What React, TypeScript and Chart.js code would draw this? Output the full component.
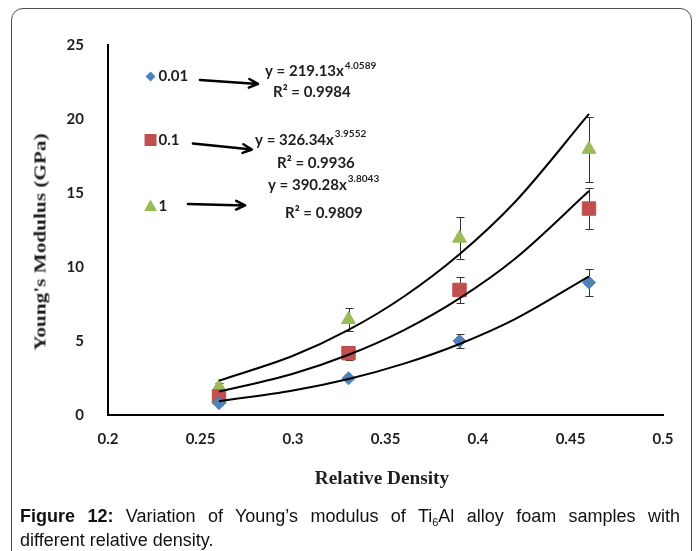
import React, { useEffect, useRef } from 'react';
import { Chart, registerables } from 'chart.js';

Chart.register(...registerables);

// ---------- data ----------
const densities = [0.26, 0.33, 0.39, 0.46];
const modulus001 = [0.8, 2.48, 5.0, 8.95];
const modulus01 = [1.25, 4.18, 8.45, 13.95];
const modulus1 = [1.9, 6.45, 11.95, 17.95];
const error001 = [0.1, 0.1, 0.5, 0.9];
const error01 = [0.2, 0.45, 0.9, 1.4];
const error1 = [0.25, 0.8, 1.4, 2.2];

const trendDensities = [0.26, 0.3, 0.33, 0.36, 0.39, 0.42, 0.46];
const trend001 = [0.93, 1.65, 2.43, 3.47, 4.8, 6.48, 9.37];
const trend01 = [1.58, 2.79, 4.07, 5.74, 7.88, 10.56, 15.13];
const trend1 = [2.32, 4.0, 5.75, 8.01, 10.86, 14.39, 20.34];

const seriesLabels = ['0.01', '0.1', '1'];
const seriesColors = ['#4F81BD', '#C0504D', '#9BBB59'];
const fitCoefficients = ['219.13', '326.34', '390.28'];
const fitExponents = ['4.0589', '3.9552', '3.8043'];
const fitR2 = ['0.9984', '0.9936', '0.9809'];

const xTickLabels = ['0.2', '0.25', '0.3', '0.35', '0.4', '0.45', '0.5'];
const yTickLabels = ['0', '5', '10', '15', '20', '25'];

// ---------- annotation layout (in axis units) ----------
const legendAnchors = [[0.223, 22.87], [0.223, 18.58], [0.223, 14.12]];
const arrowStarts = [[0.2497, 22.64], [0.2459, 18.34], [0.2432, 14.26]];
const arrowEnds = [[0.2811, 22.37], [0.2778, 17.94], [0.2741, 14.16]];
const equationAnchors = [[0.2849, 23.2], [0.2795, 18.58], [0.2865, 15.54]];
const r2Anchors = [[0.2892, 21.78], [0.2914, 17.01], [0.2957, 13.63]];

const seriesValues = [modulus001, modulus01, modulus1];
const seriesErrors = [error001, error01, error1];
const trendValues = [trend001, trend01, trend1];
const pointStyles = ['rectRot', 'rect', 'triangle'];
const pointRadii = [6.5, 9.5, 8];

const TEXT = '#1e1e1e';

function drawMarker(ctx: CanvasRenderingContext2D, style: string, x: number, y: number) {
  ctx.beginPath();
  if (style === 'rectRot') {
    const r = 5;
    ctx.moveTo(x, y - r);
    ctx.lineTo(x + r, y);
    ctx.lineTo(x, y + r);
    ctx.lineTo(x - r, y);
  } else if (style === 'rect') {
    ctx.rect(x - 6, y - 6, 12, 12);
  } else {
    ctx.moveTo(x, y - 6.5);
    ctx.lineTo(x + 6.5, y + 5);
    ctx.lineTo(x - 6.5, y + 5);
  }
  ctx.closePath();
  ctx.fill();
}

const annotationPlugin = {
  id: 'annotations',
  beforeDatasetsDraw(chart: any) {
    const { ctx } = chart;
    const xs = chart.scales.x;
    const ys = chart.scales.y;
    ctx.save();
    ctx.strokeStyle = '#333';
    ctx.lineWidth = 1;
    seriesValues.forEach((vals, s) => {
      vals.forEach((v, i) => {
        const e = seriesErrors[s][i];
        const px = Math.round(xs.getPixelForValue(densities[i])) + 0.5;
        const top = Math.round(ys.getPixelForValue(v + e)) + 0.5;
        const bot = Math.round(ys.getPixelForValue(v - e)) + 0.5;
        ctx.beginPath();
        ctx.moveTo(px, top);
        ctx.lineTo(px, bot);
        ctx.moveTo(px - 4, top);
        ctx.lineTo(px + 4, top);
        ctx.moveTo(px - 4, bot);
        ctx.lineTo(px + 4, bot);
        ctx.stroke();
      });
    });
    ctx.restore();
  },
  afterDraw(chart: any) {
    const { ctx } = chart;
    const xs = chart.scales.x;
    const ys = chart.scales.y;
    const P = (p: number[]) => [xs.getPixelForValue(p[0]), ys.getPixelForValue(p[1])];
    ctx.save();
    ctx.textBaseline = 'middle';
    ctx.textAlign = 'left';
    for (let s = 0; s < 3; s++) {
      // legend
      const [lx, ly] = P(legendAnchors[s]);
      ctx.fillStyle = seriesColors[s];
      drawMarker(ctx, pointStyles[s], lx, ly);
      ctx.fillStyle = TEXT;
      ctx.font = 'bold 15px Lato';
      ctx.fillText(seriesLabels[s], lx + 8, ly);

      // arrow
      const [ax1, ay1] = P(arrowStarts[s]);
      const [ax2, ay2] = P(arrowEnds[s]);
      ctx.strokeStyle = '#000';
      ctx.lineWidth = 2.5;
      ctx.lineCap = 'round';
      ctx.lineJoin = 'round';
      ctx.beginPath();
      ctx.moveTo(ax1, ay1);
      ctx.lineTo(ax2, ay2);
      const ang = Math.atan2(ay2 - ay1, ax2 - ax1);
      const hl = 10;
      ctx.moveTo(ax2 - hl * Math.cos(ang - 0.45), ay2 - hl * Math.sin(ang - 0.45));
      ctx.lineTo(ax2, ay2);
      ctx.lineTo(ax2 - hl * Math.cos(ang + 0.45), ay2 - hl * Math.sin(ang + 0.45));
      ctx.stroke();

      // equation
      const [ex, ey] = P(equationAnchors[s]);
      ctx.fillStyle = TEXT;
      ctx.font = 'bold 15px Lato';
      const eq = `y = ${fitCoefficients[s]}x`;
      ctx.fillText(eq, ex, ey);
      const w = ctx.measureText(eq).width;
      ctx.font = 'bold 10px Lato';
      ctx.fillText(fitExponents[s], ex + w + 1, ey - 6);

      const [rx, ry] = P(r2Anchors[s]);
      ctx.font = 'bold 15px Lato';
      ctx.fillText(`R\u00B2 = ${fitR2[s]}`, rx, ry);
    }
    ctx.restore();
  },
};

export default function App() {
  const ref = useRef<HTMLCanvasElement>(null);

  useEffect(() => {
    const tickFont = { family: 'Lato', weight: 'bold' as const, size: 15 };
    const datasets: any[] = [];
    trendValues.forEach((vals, s) => {
      datasets.push({
        label: `trend ${seriesLabels[s]}`,
        data: trendDensities.map((x, i) => ({ x, y: vals[i] })),
        showLine: true,
        borderColor: '#000',
        borderWidth: 2,
        pointRadius: 0,
        cubicInterpolationMode: 'monotone',
        fill: false,
        order: 0,
      });
    });
    seriesValues.forEach((vals, s) => {
      datasets.push({
        label: seriesLabels[s],
        data: densities.map((x, i) => ({ x, y: vals[i] })),
        pointStyle: pointStyles[s],
        pointRadius: pointRadii[s],
        backgroundColor: seriesColors[s],
        borderColor: seriesColors[s],
        borderWidth: 1,
        order: 1,
      });
    });

    const chart = new Chart(ref.current!, {
      type: 'scatter',
      data: { datasets },
      options: {
        animation: false,
        responsive: false,
        layout: { padding: { left: 0, right: 34, top: 45, bottom: 0 } },
        plugins: { legend: { display: false }, tooltip: { enabled: false } },
        scales: {
          x: {
            type: 'linear',
            min: 0.2,
            max: 0.5,
            grid: { display: false },
            border: { display: true, color: '#000', width: 2 },
            ticks: {
              stepSize: 0.05,
              padding: 7,
              autoSkip: false,
              maxRotation: 0,
              color: TEXT,
              font: tickFont,
              callback: (_v: any, i: number) => xTickLabels[i],
            },
            afterFit: (s: any) => {
              s.height = 136;
            },
          },
          y: {
            type: 'linear',
            min: 0,
            max: 25,
            grid: { display: false },
            border: { display: true, color: '#000', width: 2 },
            ticks: {
              stepSize: 5,
              padding: 16,
              color: TEXT,
              font: tickFont,
              callback: (_v: any, i: number) => yTickLabels[i],
            },
            afterFit: (s: any) => {
              s.width = 108;
            },
          },
        },
      } as any,
      plugins: [annotationPlugin],
    });
    return () => chart.destroy();
  }, []);

  return (
    <div
      style={{
        position: 'fixed',
        left: 0,
        top: 0,
        width: 697,
        height: 551,
        background: '#fff',
        overflow: 'hidden',
      }}
    >
      <div
        style={{
          position: 'absolute',
          left: 11,
          top: 8,
          width: 681,
          height: 640,
          border: '1px solid #4a4a4a',
          borderRadius: 12,
          boxSizing: 'border-box',
        }}
      />
      <canvas
        ref={ref}
        width={697}
        height={551}
        style={{ position: 'absolute', left: 0, top: 0, width: 697, height: 551 }}
      />
      <div
        style={{
          position: 'absolute',
          left: 39.5,
          top: 241.5,
          transform: 'translate(-50%, -50%) rotate(-90deg) scaleX(1.25)',
          whiteSpace: 'nowrap',
          font: 'bold 17px "Liberation Serif", "Times New Roman", serif',
          lineHeight: '1',
          color: TEXT,
        }}
      >
        Young's Modulus (GPa)
      </div>
      <div
        style={{
          position: 'absolute',
          left: 382,
          top: 478,
          transform: 'translate(-50%, -50%) scaleX(1.07)',
          whiteSpace: 'nowrap',
          font: 'bold 18px "Liberation Serif", "Times New Roman", serif',
          lineHeight: '1',
          color: TEXT,
        }}
      >
        Relative Density
      </div>
      <div
        style={{
          position: 'absolute',
          left: 20,
          top: 505.4,
          width: 660,
          font: '18px "Liberation Sans", Arial, sans-serif',
          lineHeight: '23.4px',
          color: '#111',
        }}
      >
        <div style={{ height: 23.4, textAlign: 'justify', textAlignLast: 'justify', whiteSpace: 'nowrap' as any }}>
          <b>Figure 12:</b> Variation of Young’s modulus of Ti
          <sub style={{ fontSize: 11, verticalAlign: '-4px', lineHeight: 0 }}>6</sub>Al alloy foam samples with
        </div>
        <div style={{ height: 23.4 }}>different relative density.</div>
      </div>
    </div>
  );
}
